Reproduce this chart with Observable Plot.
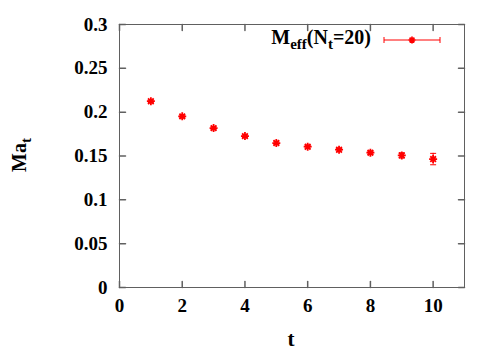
<!DOCTYPE html>
<html><head><meta charset="utf-8">
<script src="https://cdn.jsdelivr.net/npm/d3@7"></script>
<script src="https://cdn.jsdelivr.net/npm/@observablehq/plot@0.6"></script>
<style>body{margin:0;background:#fff}</style>
</head><body><div id="chart"></div>
<script>
const tValues = [1, 2, 3, 4, 5, 6, 7, 8, 9, 10];
const mEff = [0.2125, 0.1952, 0.1818, 0.1727, 0.1648, 0.1606, 0.1572, 0.1538, 0.1507, 0.1465];
const mErr = [0.0015, 0.0015, 0.0015, 0.0015, 0.0015, 0.0015, 0.0015, 0.0015, 0.003, 0.0065];
const xTicks = [0, 2, 4, 6, 8, 10];
const yTicks = [0, 0.05, 0.1, 0.15, 0.2, 0.25, 0.3];
const xDomain = [0, 11];
const yDomain = [0, 0.3];

const data = tValues.map((t, i) => ({t, m: mEff[i], e: mErr[i]}));
const RED = "#ff0000";
const FONT = "Liberation Serif";

const star = {draw(ctx, size) {
  const r = Math.sqrt(size / Math.PI);
  const d = r * Math.SQRT1_2;
  ctx.moveTo(-r, 0); ctx.lineTo(r, 0);
  ctx.moveTo(0, -r); ctx.lineTo(0, r);
  ctx.moveTo(-d, -d); ctx.lineTo(d, d);
  ctx.moveTo(-d, d); ctx.lineTo(d, -d);
}};
const cap = {draw(ctx, size) {
  const r = Math.sqrt(size / Math.PI);
  ctx.moveTo(-r, 0); ctx.lineTo(r, 0);
}};
const tickShape = {draw(ctx, l) { ctx.moveTo(0, 0); ctx.lineTo(0, -l); }};

const chart = Plot.plot({
  width: 500, height: 350,
  marginLeft: 119, marginRight: 36, marginTop: 24, marginBottom: 63,
  style: {fontFamily: FONT, background: "#fff"},
  x: {domain: xDomain},
  y: {domain: yDomain},
  marks: [
    Plot.frame({stroke: "#606060", strokeWidth: 1}),
    Plot.axisX(xTicks, {tickSize: 0, tickPadding: 11, fontSize: 19, fontWeight: "bold", fontFamily: FONT, fill: "#000", label: null, tickFormat: d3.format("~g")}),
    Plot.axisY(yTicks, {tickSize: 0, tickPadding: 12, fontSize: 19, fontWeight: "bold", fontFamily: FONT, fill: "#000", label: null, tickFormat: d3.format("~g")}),
    Plot.vector(yTicks, {x: xDomain[0], y: d => d, rotate: 90, length: 6, anchor: "start", shape: tickShape, stroke: "#606060"}),
    Plot.vector(yTicks, {x: xDomain[1], y: d => d, rotate: -90, length: 6, anchor: "start", shape: tickShape, stroke: "#606060"}),
    Plot.vector(xTicks, {x: d => d, y: yDomain[0], rotate: 0, length: 6, anchor: "start", shape: tickShape, stroke: "#606060"}),
    Plot.vector(xTicks, {x: d => d, y: yDomain[1], rotate: 180, length: 6, anchor: "start", shape: tickShape, stroke: "#606060"}),
    Plot.ruleX(data, {x: "t", y1: d => d.m - d.e, y2: d => d.m + d.e, stroke: RED, strokeWidth: 1}),
    Plot.dot(data, {x: "t", y: d => d.m - d.e, symbol: cap, r: 3, stroke: RED, strokeWidth: 1}),
    Plot.dot(data, {x: "t", y: d => d.m + d.e, symbol: cap, r: 3, stroke: RED, strokeWidth: 1}),
    Plot.dot(data, {x: "t", y: "m", symbol: star, r: 4, stroke: RED, strokeWidth: 1.8})
  ]
});
document.getElementById("chart").appendChild(chart);

const svg = d3.select(chart);
// y axis label
const yl = svg.append("text")
  .attr("transform", "translate(26,155) rotate(-90)")
  .attr("text-anchor", "middle")
  .attr("font-family", FONT).attr("font-weight", "bold").attr("font-size", 20).attr("fill", "#000");
yl.append("tspan").text("Ma");
yl.append("tspan").attr("font-size", 15).attr("dy", 5).text("t");
// x axis label
svg.append("text").attr("x", 291).attr("y", 346).attr("text-anchor", "middle")
  .attr("font-family", FONT).attr("font-weight", "bold").attr("font-size", 21).attr("fill", "#000").text("t");
// legend
const lg = svg.append("text").attr("x", 371).attr("y", 44).attr("text-anchor", "end")
  .attr("font-family", FONT).attr("font-weight", "bold").attr("font-size", 20).attr("fill", "#000");
lg.append("tspan").text("M");
lg.append("tspan").attr("font-size", 15).attr("dy", 5).text("eff");
lg.append("tspan").attr("dy", -5).text("(N");
lg.append("tspan").attr("font-size", 15).attr("dy", 5).text("t");
lg.append("tspan").attr("dy", -5).text("=20)");
const lgG = svg.append("g").attr("stroke", RED).attr("fill", "none");
lgG.append("path").attr("d", "M384,40H440M384,37V43M440,37V43").attr("stroke-width", 1);
lgG.append("path").attr("transform", "translate(412,40)").attr("stroke-width", 1.7)
  .attr("d", d3.symbol(star, Math.PI * 12)());
</script>
</body></html>
